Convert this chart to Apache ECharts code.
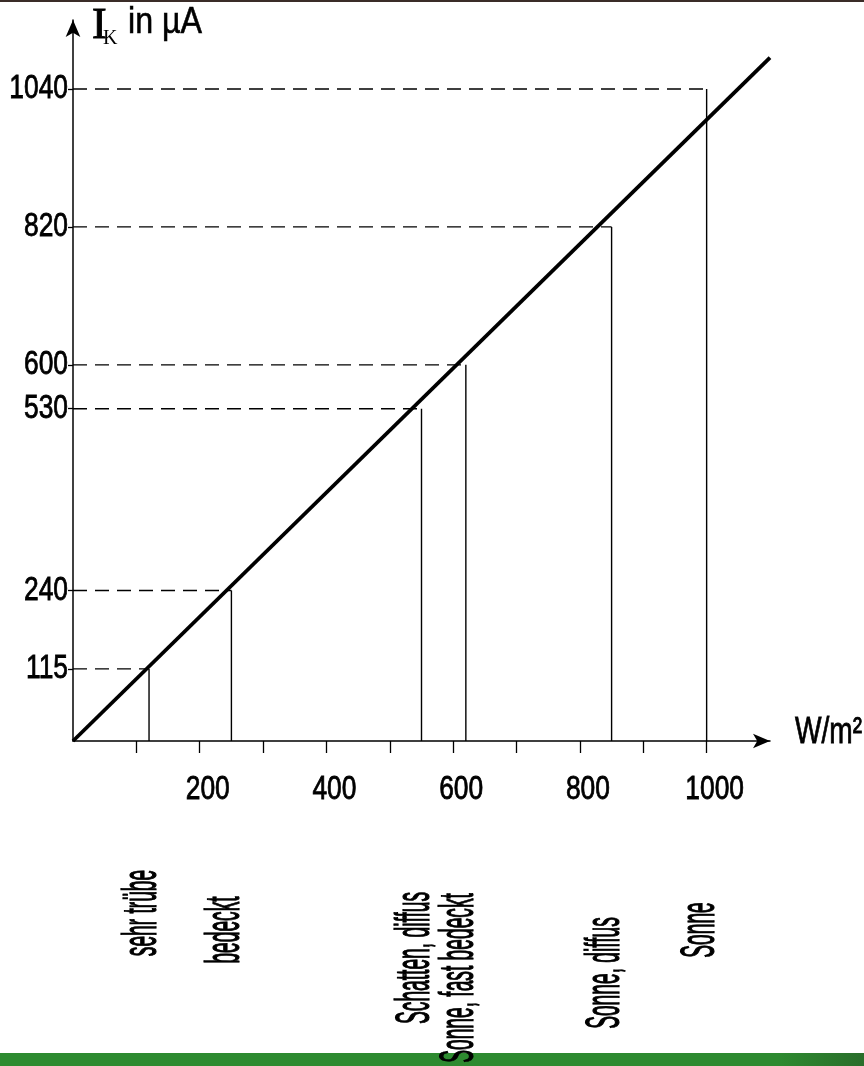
<!DOCTYPE html>
<html>
<head>
<meta charset="utf-8">
<script src="https://cdn.jsdelivr.net/npm/echarts@6/dist/echarts.min.js"></script>
<style>
  html, body { margin: 0; padding: 0; background: #fff; }
  #chart { width: 864px; height: 1066px; }
</style>
</head>
<body>
<div id="chart"></div>
<script>
// measured points: irradiance in W/m², short-circuit current in µA
const irradiance = [120, 250, 550, 620, 850, 1000];
const currentUA = [115, 240, 530, 600, 820, 1040];
const conditions = ['sehr trübe', 'bedeckt', 'Schatten, diffus', 'Sonne, fast bedeckt', 'Sonne, diffus', 'Sonne'];

// straight fit line through the origin
const fitX = [0, 1100];
const fitY = [0, 1090];

const xTickValues = [100, 200, 300, 400, 500, 600, 700, 800, 900, 1000];
const xLabelValues = [200, 400, 600, 800, 1000];
const yTickValues = currentUA;

const SANS = '"Liberation Sans", Arial, sans-serif';
const SERIF = '"Liberation Serif", "Times New Roman", serif';

// vertical centre of each rotated condition label (layout only)
const labelCenterY = [913, 930, 958, 978, 973, 930];

const chart = echarts.init(document.getElementById('chart'));

const points = irradiance.map((x, i) => [x, currentUA[i]]);
const fit = fitX.map((x, i) => [x, fitY[i]]);

// narrow, slightly heavy text like the original's squeezed lettering
function squeezedText(x, y, text, size, align, vAlign, scale) {
  return {
    type: 'text', x: x, y: y, scaleX: scale,
    style: {
      text: text, font: size + 'px ' + SANS, fill: '#000',
      stroke: '#000', lineWidth: 0.8, align: align, verticalAlign: vAlign
    }
  };
}

chart.setOption({
  animation: false,
  backgroundColor: '#fff',
  grid: { left: 73, top: 20, right: 94, bottom: 325, outerBoundsMode: 'none', containLabel: false },
  xAxis: {
    type: 'value',
    min: 0,
    max: 1100,
    axisLine: { symbol: ['none', 'arrow'], symbolSize: [11, 17], lineStyle: { color: '#000', width: 1.5 } },
    axisTick: { customValues: xTickValues, length: 12, lineStyle: { color: '#000', width: 1.3 } },
    axisLabel: { show: false },
    splitLine: { show: false }
  },
  yAxis: {
    type: 'value',
    min: 0,
    max: 1150,
    axisLine: { symbol: ['none', 'arrow'], symbolSize: [11, 17], lineStyle: { color: '#000', width: 1.5 } },
    axisTick: { customValues: yTickValues, length: 5, lineStyle: { color: '#000', width: 1.3 } },
    axisLabel: { show: false },
    splitLine: { show: false }
  },
  graphic: [
    { type: 'rect', shape: { x: 0, y: 0, width: 864, height: 2 }, style: { fill: '#3a2c28' } },
    {
      type: 'rect', z: -1, shape: { x: 0, y: 1053, width: 864, height: 13 },
      style: {
        fill: new echarts.graphic.LinearGradient(0, 0, 1, 0, [
          { offset: 0, color: '#2e8b30' }, { offset: 0.9, color: '#2e8a30' }, { offset: 1, color: '#2a6e2b' }
        ])
      }
    },
    { type: 'text', x: 92, y: 4, style: { text: 'I', font: '44px ' + SERIF, fill: '#000', stroke: '#000', lineWidth: 1 } },
    { type: 'text', x: 103, y: 29, style: { text: 'K', font: '20px ' + SERIF, fill: '#000' } },
    { type: 'text', x: 128, y: 4, scaleX: 0.87, style: { text: 'in µA', font: '37px ' + SANS, fill: '#000', stroke: '#000', lineWidth: 0.6 } },
    squeezedText(795, 733, 'W/m²', 37, 'left', 'middle', 0.76)
  ],
  series: [
    {
      type: 'custom',
      z: 2,
      data: points,
      renderItem: function (params, api) {
        const x = api.value(0), y = api.value(1);
        const top = api.coord([x, y]);
        const base = api.coord([x, 0]);
        const left = api.coord([0, y]);
        return {
          type: 'group',
          children: [
            { type: 'line', shape: { x1: left[0], y1: left[1], x2: top[0], y2: top[1] },
              style: { stroke: '#000', lineWidth: 1.4, lineDash: [14, 8] } },
            { type: 'line', shape: { x1: base[0], y1: base[1], x2: top[0], y2: top[1] },
              style: { stroke: '#000', lineWidth: 1.4 } }
          ]
        };
      }
    },
    {
      type: 'line',
      z: 3,
      data: fit,
      symbol: 'none',
      lineStyle: { color: '#000', width: 3.8 }
    },
    {
      // y tick labels
      type: 'custom',
      z: 4,
      clip: false,
      data: yTickValues.map(v => [0, v]),
      renderItem: function (params, api) {
        const p = api.coord([0, api.value(1)]);
        return squeezedText(p[0] - 5, p[1], String(api.value(1)), 33, 'right', 'middle', 0.8);
      }
    },
    {
      // x tick labels
      type: 'custom',
      z: 4,
      clip: false,
      data: xLabelValues.map(v => [v, 0]),
      renderItem: function (params, api) {
        const p = api.coord([api.value(0), 0]);
        return squeezedText(p[0] + 8, p[1] + 49, String(api.value(0)), 33, 'center', 'middle', 0.8);
      }
    },
    {
      // rotated condition labels under each measurement
      type: 'custom',
      z: 5,
      clip: false,
      data: irradiance.map(x => [x, 0]),
      renderItem: function (params, api) {
        const p = api.coord([api.value(0), 0]);
        return {
          type: 'text',
          x: p[0] - 6,
          y: labelCenterY[params.dataIndex],
          rotation: Math.PI / 2,
          scaleX: 0.4,
          style: {
            text: conditions[params.dataIndex],
            font: '48px ' + SANS,
            fill: '#000',
            stroke: '#000',
            lineWidth: 1.2,
            align: 'center',
            verticalAlign: 'middle'
          }
        };
      }
    }
  ]
});
</script>
</body>
</html>
